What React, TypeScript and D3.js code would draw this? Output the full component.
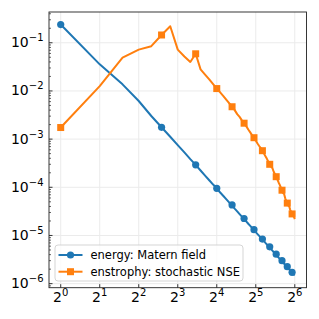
import * as d3 from 'd3';

// wavenumbers 1..64
const ks = d3.range(1, 65);

// energy spectrum (Matern field)
const energy = [
  0.239, 0.0356, 0.0137, 6.18e-3, 3.02e-3, 1.76e-3, 1.12e-3, 7.5e-4, 5.3e-4, 3.85e-4,
  2.92e-4, 2.23e-4, 1.75e-4, 1.4e-4, 1.14e-4, 9.5e-5, 7.8e-5, 6.6e-5, 5.6e-5, 4.8e-5,
  4.3e-5, 3.62e-5, 3.16e-5, 2.78e-5, 2.46e-5, 2.25e-5, 1.96e-5, 1.75e-5, 1.58e-5, 1.43e-5,
  1.32e-5, 1.17e-5, 1.07e-5, 9.8e-6, 9.0e-6, 8.4e-6, 7.6e-6, 7.0e-6, 6.5e-6, 6.0e-6,
  5.8e-6, 5.2e-6, 4.84e-6, 4.52e-6, 4.22e-6, 4.1e-6, 3.71e-6, 3.48e-6, 3.27e-6, 3.08e-6,
  3.0e-6, 2.74e-6, 2.59e-6, 2.44e-6, 2.31e-6, 2.25e-6, 2.08e-6, 1.97e-6, 1.87e-6, 1.78e-6,
  1.72e-6, 1.62e-6, 1.54e-6, 1.5e-6,
];

// enstrophy spectrum (stochastic NSE)
const enstrophy = [
  1.74e-3, 0.0126, 0.049, 0.072, 0.085, 0.145, 0.22, 0.072, 0.052, 0.04,
  0.059, 0.028, 0.0219, 0.0174, 0.0138, 0.0112, 9.3e-3, 7.8e-3, 6.5e-3, 5.5e-3,
  4.7e-3, 4.0e-3, 3.3e-3, 2.9e-3, 2.45e-3, 2.14e-3, 1.86e-3, 1.58e-3, 1.38e-3, 1.2e-3,
  1.07e-3, 9.3e-4, 8.1e-4, 7.2e-4, 6.5e-4, 5.75e-4, 5.0e-4, 4.4e-4, 3.9e-4, 3.4e-4,
  3.0e-4, 2.7e-4, 2.5e-4, 2.1e-4, 1.86e-4, 1.66e-4, 1.45e-4, 1.26e-4, 1.12e-4, 9.8e-5,
  8.7e-5, 7.6e-5, 7.2e-5, 5.9e-5, 5.2e-5, 4.7e-5, 4.2e-5, 4.0e-5, 3.4e-5, 3.1e-5,
  2.8e-5, 2.57e-5, 2.45e-5, 2.19e-5,
];

const seriesNames = ['energy: Matern field', 'enstrophy: stochastic NSE'];
const xTickExps = [0, 1, 2, 3, 4, 5, 6];
const yTickExps = [-6, -5, -4, -3, -2, -1];

const BLUE = '#1f77b4';
const ORANGE = '#ff7f0e';

export default function App() {
  const width = 319, height = 319;
  const margin = { top: 12, right: 12.5, bottom: 31.3, left: 49 };
  const x0 = margin.left, x1 = width - margin.right;
  const y0 = margin.top, y1 = height - margin.bottom;

  // matplotlib-like 5% margins in log space
  const lx = [Math.log2(ks[0]), Math.log2(ks[ks.length - 1])];
  const padX = (lx[1] - lx[0]) * 0.05;
  const all = energy.concat(enstrophy);
  const ly = [Math.log10(d3.min(all)!), Math.log10(d3.max(all)!)];
  const padY = (ly[1] - ly[0]) * 0.05;

  const x = d3.scaleLog().base(2)
    .domain([2 ** (lx[0] - padX), 2 ** (lx[1] + padX)])
    .range([x0, x1]);
  const y = d3.scaleLog()
    .domain([10 ** (ly[0] - padY), 10 ** (ly[1] + padY)])
    .range([y1, y0]);

  const line = d3.line<number>()
    .x((_, i) => x(ks[i]))
    .y(d => y(d));

  const minorY: number[] = [];
  for (let e = -7; e <= 0; e++) {
    for (let m = 2; m <= 9; m++) {
      const v = m * 10 ** e;
      const py = y(v);
      if (py >= y0 && py <= y1) minorY.push(py);
    }
  }

  const markIdx = ks.map((_, i) => i).filter(i => i % 5 === 0);
  const fontFamily = '"DejaVu Sans", sans-serif';

  return (
    <svg width={width} height={height} style={{ position: 'absolute', left: 0, top: 0, background: '#fff' }}
      fontFamily={fontFamily}>
      <rect x={0} y={0} width={width} height={height} fill="#fff" />

      {/* grid */}
      {xTickExps.map(e => (
        <line key={'gx' + e} x1={x(2 ** e)} x2={x(2 ** e)} y1={y0} y2={y1} stroke="#ebebeb" strokeWidth={1} />
      ))}
      {yTickExps.map(e => (
        <line key={'gy' + e} x1={x0} x2={x1} y1={y(10 ** e)} y2={y(10 ** e)} stroke="#ebebeb" strokeWidth={1} />
      ))}

      {/* series */}
      <path d={line(energy)!} fill="none" stroke={BLUE} strokeWidth={2} strokeLinejoin="round" />
      {markIdx.map(i => (
        <circle key={'c' + i} cx={x(ks[i])} cy={y(energy[i])} r={3.6} fill={BLUE} />
      ))}
      <path d={line(enstrophy)!} fill="none" stroke={ORANGE} strokeWidth={2} strokeLinejoin="round" />
      {markIdx.map(i => (
        <rect key={'s' + i} x={x(ks[i]) - 3.5} y={y(enstrophy[i]) - 3.5} width={7} height={7} fill={ORANGE} />
      ))}

      {/* ticks */}
      {xTickExps.map(e => (
        <g key={'tx' + e}>
          <line x1={x(2 ** e)} x2={x(2 ** e)} y1={y1} y2={y1 - 3.5} stroke="#222" strokeWidth={0.9} />
          <text x={x(2 ** e)} y={301.5} textAnchor="middle" fontSize={14} fill="#000">
            2<tspan fontSize={10} dy={-5.5}>{e}</tspan>
          </text>
        </g>
      ))}
      {minorY.map((py, i) => (
        <line key={'my' + i} x1={x0} x2={x0 + 2} y1={py} y2={py} stroke="#222" strokeWidth={0.7} />
      ))}
      {yTickExps.map(e => (
        <g key={'ty' + e}>
          <line x1={x0} x2={x0 + 3.5} y1={y(10 ** e)} y2={y(10 ** e)} stroke="#222" strokeWidth={0.9} />
          <text x={43.5} y={y(10 ** e) + 4.5} textAnchor="end" fontSize={14} fill="#000">
            10<tspan fontSize={10} dy={-6}>{'\u2212' + Math.abs(e)}</tspan>
          </text>
        </g>
      ))}

      {/* frame */}
      <rect x={x0} y={y0} width={x1 - x0} height={y1 - y0} fill="none" stroke="#222" strokeWidth={0.9} />

      {/* legend */}
      <g>
        <rect x={55} y={245} width={188} height={36} rx={3} fill="#fff" fillOpacity={0.8} stroke="#d0d0d0" strokeWidth={0.9} />
        {seriesNames.map((name, i) => {
          const ry = 255 + i * 16.7;
          const col = i === 0 ? BLUE : ORANGE;
          return (
            <g key={name}>
              <line x1={58.5} x2={82.5} y1={ry} y2={ry} stroke={col} strokeWidth={2} />
              {i === 0
                ? <circle cx={70.5} cy={ry} r={3.6} fill={col} />
                : <rect x={67} y={ry - 3.5} width={7} height={7} fill={col} />}
              <text x={90.5} y={ry + 4.2} fontSize={11.5} fill="#000">{name}</text>
            </g>
          );
        })}
      </g>
    </svg>
  );
}
